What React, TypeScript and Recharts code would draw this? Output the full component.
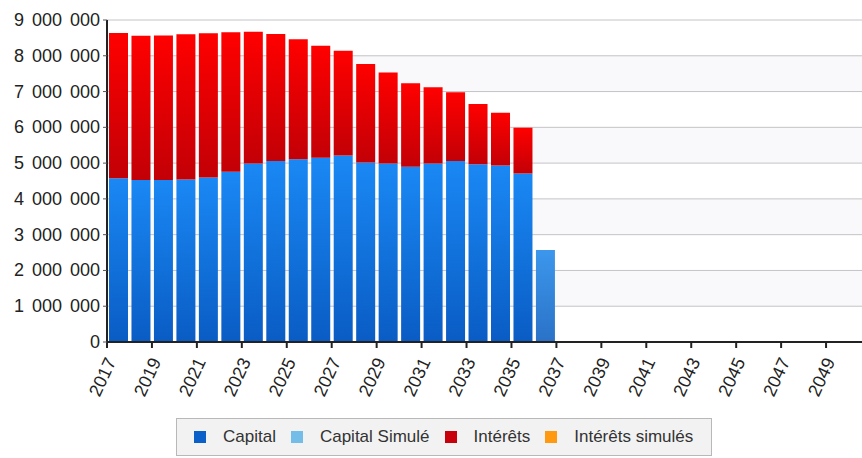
import React from "react"
import { Bar, BarChart, CartesianGrid, XAxis, YAxis } from "recharts"

// années affichées (barres)
const years = [
    2017, 2018, 2019, 2020, 2021, 2022, 2023, 2024, 2025, 2026, 2027, 2028,
    2029, 2030, 2031, 2032, 2033, 2034, 2035, 2036,
]

const capital = [
    4580000, 4530000, 4530000, 4540000, 4600000, 4760000, 4990000, 5060000,
    5110000, 5150000, 5210000, 5020000, 4990000, 4900000, 4990000, 5060000,
    4970000, 4930000, 4710000, 0,
]

const capitalSimule = [
    0, 0, 0, 0, 0, 0, 0, 0, 0, 0, 0, 0, 0, 0, 0, 0, 0, 0, 0, 2570000,
]

const interets = [
    4060000, 4030000, 4040000, 4060000, 4030000, 3900000, 3680000, 3550000,
    3350000, 3130000, 2930000, 2750000, 2540000, 2330000, 2130000, 1920000,
    1680000, 1480000, 1280000, 0,
]

const interetsSimules = [
    0, 0, 0, 0, 0, 0, 0, 0, 0, 0, 0, 0, 0, 0, 0, 0, 0, 0, 0, 0,
]

const xTicks = [
    2017, 2019, 2021, 2023, 2025, 2027, 2029, 2031, 2033, 2035, 2037, 2039,
    2041, 2043, 2045, 2047, 2049,
]

const yTicks = [
    0, 1000000, 2000000, 3000000, 4000000, 5000000, 6000000, 7000000, 8000000,
    9000000,
]

const legendItems = [
    { name: "Capital", color: "#0b5fc8" },
    { name: "Capital Simulé", color: "#74bde9" },
    { name: "Intérêts", color: "#c8000c" },
    { name: "Intérêts simulés", color: "#ff9a10" },
]

const FONT = "'Liberation Sans', Arial, sans-serif"

const formatNumber = (v: number) =>
    String(v).replace(/\B(?=(\d{3})+(?!\d))/g, " ")

const XTick = ({ x, y, payload }: any) => (
    <text
        x={x + 4}
        y={y + 9}
        transform={`rotate(-65 ${x + 4} ${y + 9})`}
        textAnchor="end"
        dominantBaseline="central"
        fontFamily={FONT}
        fontSize={18}
        fill="#222"
    >
        {payload.value}
    </text>
)

const YTick = ({ x, y, payload }: any) => (
    <text
        x={x}
        y={y}
        textAnchor="end"
        dominantBaseline="central"
        fontFamily={FONT}
        fontSize={18}
        wordSpacing={3}
        fill="#222"
    >
        {formatNumber(payload.value)}
    </text>
)

const App = () => {
    const data = years.map((year, i) => ({
        x: year + 0.5,
        capital: capital[i],
        capitalSimule: capitalSimule[i],
        interets: interets[i],
        interetsSimules: interetsSimules[i],
    }))

    return (
        <div
            style={{
                position: "absolute",
                left: 0,
                top: 0,
                width: 862,
                height: 458,
                overflow: "hidden",
                background: "#fff",
            }}
        >
            <BarChart
                data={data}
                width={871}
                height={418}
                margin={{ top: 20, right: 0, bottom: 0, left: 0 }}
            >
                <defs>
                    <linearGradient id="gCapital" x1="0" y1="0" x2="0" y2="1">
                        <stop offset="0%" stopColor="#1a88f4" />
                        <stop offset="100%" stopColor="#0a5cc4" />
                    </linearGradient>
                    <linearGradient id="gCapSim" x1="0" y1="0" x2="0" y2="1">
                        <stop offset="0%" stopColor="#3c97ec" />
                        <stop offset="100%" stopColor="#2a72c8" />
                    </linearGradient>
                    <linearGradient id="gInterets" x1="0" y1="0" x2="0" y2="1">
                        <stop offset="0%" stopColor="#ff0000" />
                        <stop offset="100%" stopColor="#c20006" />
                    </linearGradient>
                    <linearGradient id="gIntSim" x1="0" y1="0" x2="0" y2="1">
                        <stop offset="0%" stopColor="#ffaa22" />
                        <stop offset="100%" stopColor="#ee8800" />
                    </linearGradient>
                </defs>
                <CartesianGrid
                    vertical={false}
                    stroke="#c4c4c8"
                    horizontalFill={["#ffffff", "#f9f9fb"]}
                />
                <XAxis
                    dataKey="x"
                    type="number"
                    domain={[2017, 2051]}
                    ticks={xTicks}
                    interval={0}
                    height={76}
                    tick={<XTick />}
                    tickSize={6}
                    axisLine={{ stroke: "#222", strokeWidth: 2 }}
                    tickLine={{ stroke: "#222", strokeWidth: 2 }}
                />
                <YAxis
                    width={107}
                    domain={[0, 9000000]}
                    ticks={yTicks}
                    interval={0}
                    tick={<YTick />}
                    tickSize={4}
                    tickMargin={3}
                    axisLine={{ stroke: "#222", strokeWidth: 2 }}
                    tickLine={{ stroke: "#555" }}
                />
                <Bar
                    dataKey="capital"
                    stackId="a"
                    barSize={19}
                    fill="url(#gCapital)"
                    isAnimationActive={false}
                />
                <Bar
                    dataKey="capitalSimule"
                    stackId="a"
                    barSize={19}
                    fill="url(#gCapSim)"
                    isAnimationActive={false}
                />
                <Bar
                    dataKey="interets"
                    stackId="a"
                    barSize={19}
                    fill="url(#gInterets)"
                    isAnimationActive={false}
                />
                <Bar
                    dataKey="interetsSimules"
                    stackId="a"
                    barSize={19}
                    fill="url(#gIntSim)"
                    isAnimationActive={false}
                />
            </BarChart>
            <div
                style={{
                    position: "absolute",
                    left: 176,
                    top: 418,
                    width: 536,
                    height: 38,
                    boxSizing: "border-box",
                    border: "1px solid #b8b8b8",
                    background: "#f2f2f2",
                    display: "flex",
                    alignItems: "center",
                    paddingLeft: 17,
                    gap: 15,
                    fontFamily: FONT,
                    fontSize: 17,
                    color: "#333",
                }}
            >
                {legendItems.map((item) => (
                    <div
                        key={item.name}
                        style={{ display: "flex", alignItems: "center", gap: 17 }}
                    >
                        <span
                            style={{
                                display: "inline-block",
                                width: 12,
                                height: 12,
                                background: item.color,
                            }}
                        />
                        <span>{item.name}</span>
                    </div>
                ))}
            </div>
        </div>
    )
}

export default App
